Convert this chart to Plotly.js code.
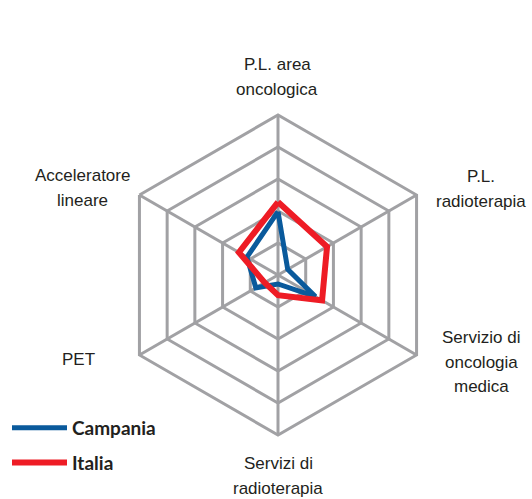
<!DOCTYPE html>
<html>
<head>
<meta charset="utf-8">
<script src="https://cdn.plot.ly/plotly-3.0.1.min.js"></script>
<style>
  html, body { margin: 0; padding: 0; background: #fff; }
  #chart { width: 532px; height: 499px; }
</style>
</head>
<body>
<div id="chart"></div>
<script>
// --- Data ---
const categories = [
    'P.L. area oncologica',
    'P.L. radioterapia',
    'Servizio di oncologia medica',
    'Servizi di radioterapia',
    'PET',
    'Acceleratore lineare'
];
const axisLabels = [
    ['P.L. area', 'oncologica'],
    ['P.L.', 'radioterapia'],
    ['Servizio di', 'oncologia', 'medica'],
    ['Servizi di', 'radioterapia'],
    ['PET'],
    ['Acceleratore', 'lineare']
];
const campania = [1.98, 0.35, 1.35, 0.28, 0.8, 1.12];
const italia = [2.28, 1.77, 1.59, 0.63, 0.48, 1.41];

// label block centres (px in a 532x499 page)
const labelPos = [
    [277, 77], [481, 189], [481, 362], [278, 476], [78, 359], [82, 188]
];

const W = 532, H = 499;
const grid = '#a1a1a4';
const lineGap = 24.5;
const labelFont = { family: 'Liberation Sans, Arial', size: 17, color: '#231f20' };

function closed(arr) { return arr.concat([arr[0]]); }

const data = [
    {
        type: 'scatterpolar',
        mode: 'lines',
        name: 'Campania',
        legendgroup: 'c',
        r: closed(campania),
        theta: closed(categories),
        line: { color: '#0a5a9c', width: 5 }
    },
    {
        type: 'scatterpolar',
        mode: 'lines',
        name: 'Italia',
        legendgroup: 'i',
        r: closed(italia),
        theta: closed(categories),
        line: { color: '#ee1c25', width: 6 }
    }
];

const annotations = [];
axisLabels.forEach((lines, i) => {
    lines.forEach((t, j) => {
        const y = labelPos[i][1] + (j - (lines.length - 1) / 2) * lineGap;
        annotations.push({
            text: t,
            xref: 'paper', yref: 'paper',
            x: labelPos[i][0] / W,
            y: 1 - y / H,
            xanchor: 'center', yanchor: 'middle',
            showarrow: false,
            font: labelFont
        });
    });
});

const layout = {
    width: W,
    height: H,
    margin: { t: 0, b: 0, l: 0, r: 0 },
    paper_bgcolor: '#fff',
    showlegend: true,
    legend: {
        x: 7 / W, y: 1 - 409 / H, xanchor: 'left', yanchor: 'top',
        font: { family: 'Lato, Open Sans, sans-serif', size: 19, color: '#231f20', weight: 'bold' },
        itemwidth: 55,
        tracegroupgap: 7,
        traceorder: 'grouped'
    },
    polar: {
        domain: { x: [118 / W, 438 / W], y: [1 - 435 / H, 1 - 115 / H] },
        gridshape: 'linear',
        bgcolor: 'rgba(0,0,0,0)',
        radialaxis: {
            range: [0, 5],
            dtick: 1,
            showticklabels: false,
            ticks: '',
            showline: false,
            gridcolor: grid,
            gridwidth: 3
        },
        angularaxis: {
            rotation: 90,
            direction: 'clockwise',
            showticklabels: false,
            ticks: '',
            showline: true,
            linecolor: grid,
            linewidth: 3,
            gridcolor: grid,
            gridwidth: 3
        }
    },
    annotations: annotations
};

Plotly.newPlot('chart', data, layout, { displayModeBar: false, staticPlot: true });
</script>
</body>
</html>
